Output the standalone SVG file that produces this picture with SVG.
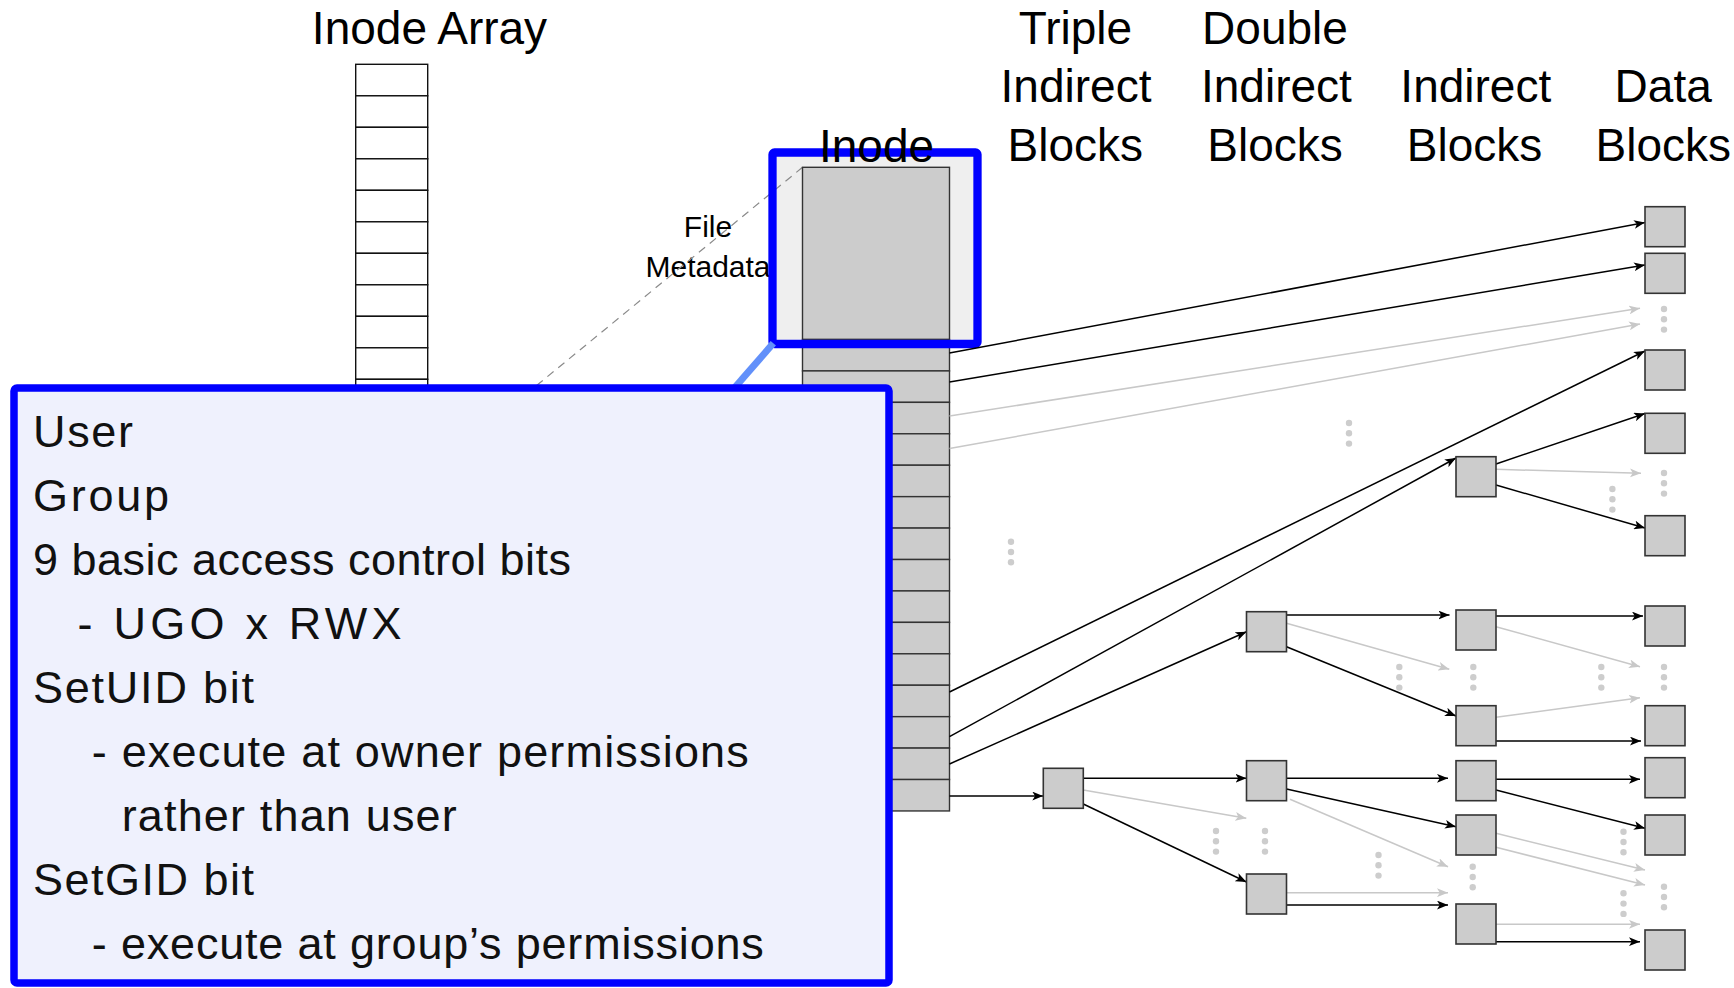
<svg xmlns="http://www.w3.org/2000/svg" width="1734" height="988" viewBox="0 0 1734 988">
<style>
.t{font-family:"Liberation Sans",Arial,sans-serif;fill:#000}
.title{font-size:46px;text-anchor:middle}
.small{font-size:30px;text-anchor:middle}
.co{font-size:45px;fill:#111}
.cell{fill:#fff;stroke:#111;stroke-width:1.4}
.gc{fill:#cccccc;stroke:#333;stroke-width:1.4}
.blk{fill:#cccccc;stroke:#333;stroke-width:1.6}
.ab{stroke:#000;stroke-width:1.5;fill:none;marker-end:url(#mb)}
.ag{stroke:#c8c8c8;stroke-width:1.5;fill:none;marker-end:url(#mg)}
.dot{fill:#cdcdcd}
</style>
<defs>
<marker id="mb" viewBox="0 0 10 8" refX="10" refY="4" markerWidth="11" markerHeight="9" markerUnits="userSpaceOnUse" orient="auto"><path d="M0,0 L10,4 L0,8 L2.5,4 Z" fill="#000"/></marker>
<marker id="mg" viewBox="0 0 10 8" refX="10" refY="4" markerWidth="11" markerHeight="9" markerUnits="userSpaceOnUse" orient="auto"><path d="M0,0 L10,4 L0,8 L2.5,4 Z" fill="#c8c8c8"/></marker>
<g id="dots3"><circle cx="0" cy="0" r="3.2"/><circle cx="0" cy="10.3" r="3.2"/><circle cx="0" cy="20.6" r="3.2"/></g>
</defs>
<rect width="1734" height="988" fill="#fff"/>

<g id="titles">
<text class="t title" x="429.5" y="43.5">Inode Array</text>
<text class="t title" x="1075.5" y="43.5">Triple</text>
<text class="t title" x="1076" y="102">Indirect</text>
<text class="t title" x="1075.3" y="161">Blocks</text>
<text class="t title" x="1275" y="43.5">Double</text>
<text class="t title" x="1276.4" y="102">Indirect</text>
<text class="t title" x="1275" y="161">Blocks</text>
<text class="t title" x="1475.8" y="102">Indirect</text>
<text class="t title" x="1474.5" y="161">Blocks</text>
<text class="t title" x="1663.2" y="102">Data</text>
<text class="t title" x="1663.3" y="161">Blocks</text>
</g>

<g id="inode-array">
<rect class="cell" x="355.7" y="64.3" width="72" height="31.5"/>
<rect class="cell" x="355.7" y="95.8" width="72" height="31.5"/>
<rect class="cell" x="355.7" y="127.3" width="72" height="31.5"/>
<rect class="cell" x="355.7" y="158.8" width="72" height="31.5"/>
<rect class="cell" x="355.7" y="190.3" width="72" height="31.5"/>
<rect class="cell" x="355.7" y="221.8" width="72" height="31.5"/>
<rect class="cell" x="355.7" y="253.3" width="72" height="31.5"/>
<rect class="cell" x="355.7" y="284.8" width="72" height="31.5"/>
<rect class="cell" x="355.7" y="316.3" width="72" height="31.5"/>
<rect class="cell" x="355.7" y="347.8" width="72" height="31.5"/>
<rect class="cell" x="355.7" y="379.3" width="72" height="31.5"/>
</g>

<text class="t small" x="708" y="237">File</text>
<text class="t small" x="708" y="277">Metadata</text>

<g id="inode">
<rect x="772.5" y="152.5" width="205" height="191.5" rx="2" fill="#efefef"/>
<line x1="802.5" y1="167.3" x2="536" y2="386" stroke="#8a8a8a" stroke-width="1.2" stroke-dasharray="8 6"/>
<rect class="gc" x="802.5" y="167.3" width="147" height="172.2"/>
<rect class="gc" x="802.5" y="339.5" width="147" height="31.43"/>
<rect class="gc" x="802.5" y="370.93" width="147" height="31.43"/>
<rect class="gc" x="802.5" y="402.36" width="147" height="31.43"/>
<rect class="gc" x="802.5" y="433.79" width="147" height="31.43"/>
<rect class="gc" x="802.5" y="465.22" width="147" height="31.43"/>
<rect class="gc" x="802.5" y="496.65" width="147" height="31.43"/>
<rect class="gc" x="802.5" y="528.08" width="147" height="31.43"/>
<rect class="gc" x="802.5" y="559.51" width="147" height="31.43"/>
<rect class="gc" x="802.5" y="590.94" width="147" height="31.43"/>
<rect class="gc" x="802.5" y="622.37" width="147" height="31.43"/>
<rect class="gc" x="802.5" y="653.8" width="147" height="31.43"/>
<rect class="gc" x="802.5" y="685.23" width="147" height="31.43"/>
<rect class="gc" x="802.5" y="716.66" width="147" height="31.43"/>
<rect class="gc" x="802.5" y="748.09" width="147" height="31.43"/>
<rect class="gc" x="802.5" y="779.52" width="147" height="31.43"/>
<rect x="772.5" y="152.5" width="205" height="191.5" rx="2" fill="none" stroke="#0000ff" stroke-width="8.3"/>
<text class="t title" x="876.5" y="162">Inode</text>
</g>

<g id="connectors">
<line class="ag" x1="949.5" y1="416" x2="1640" y2="308.3"/>
<line class="ag" x1="949.5" y1="448.5" x2="1640" y2="324"/>
<line class="ag" x1="1496" y1="469.3" x2="1641" y2="473.3"/>
<line class="ag" x1="1286.5" y1="623.3" x2="1449.3" y2="669.3"/>
<line class="ag" x1="1496" y1="626.7" x2="1640" y2="666.7"/>
<line class="ag" x1="1496" y1="717.3" x2="1640" y2="697.7"/>
<line class="ag" x1="1083.3" y1="790" x2="1246.3" y2="818.3"/>
<line class="ag" x1="1290" y1="799.3" x2="1448" y2="866.7"/>
<line class="ag" x1="1286.5" y1="892.7" x2="1448" y2="892.7"/>
<line class="ag" x1="1496" y1="833.3" x2="1645" y2="870"/>
<line class="ag" x1="1496" y1="847.3" x2="1645" y2="885"/>
<line class="ag" x1="1496" y1="924.3" x2="1640" y2="924.3"/>
<line class="ab" x1="949.5" y1="353" x2="1645" y2="222.5"/>
<line class="ab" x1="949.5" y1="382" x2="1645" y2="265"/>
<line class="ab" x1="949.5" y1="692" x2="1645" y2="351"/>
<line class="ab" x1="949.5" y1="736.7" x2="1456" y2="458"/>
<line class="ab" x1="949.5" y1="764" x2="1246.5" y2="631.7"/>
<line class="ab" x1="949.5" y1="796" x2="1043.3" y2="796"/>
<line class="ab" x1="1496" y1="464" x2="1645" y2="413.5"/>
<line class="ab" x1="1496" y1="485" x2="1645" y2="528"/>
<line class="ab" x1="1286.5" y1="615" x2="1449.5" y2="615"/>
<line class="ab" x1="1286.5" y1="646.7" x2="1456" y2="716"/>
<line class="ab" x1="1496" y1="616" x2="1643" y2="616"/>
<line class="ab" x1="1496" y1="741" x2="1641" y2="741"/>
<line class="ab" x1="1083.3" y1="778.3" x2="1246.5" y2="778.3"/>
<line class="ab" x1="1083.3" y1="804" x2="1246.5" y2="882"/>
<line class="ab" x1="1286.5" y1="778.3" x2="1448" y2="778.3"/>
<line class="ab" x1="1286.5" y1="789" x2="1456" y2="826.7"/>
<line class="ab" x1="1286.5" y1="905" x2="1448" y2="905"/>
<line class="ab" x1="1496" y1="779.3" x2="1640" y2="779.3"/>
<line class="ab" x1="1496" y1="790" x2="1645" y2="828.3"/>
<line class="ab" x1="1496" y1="941.7" x2="1640" y2="941.7"/>
</g>

<g id="triple-indirect">
<rect id="t1" class="blk" x="1043.3" y="768.3" width="40" height="40"/>
</g>
<g id="double-indirect">
<rect id="di1" class="blk" x="1246.5" y="611.7" width="40" height="40"/>
<rect id="di2" class="blk" x="1246.5" y="760.7" width="40" height="40"/>
<rect id="di3" class="blk" x="1246.5" y="874" width="40" height="40"/>
</g>
<g id="indirect">
<rect id="i1" class="blk" x="1456" y="456.7" width="40" height="40"/>
<rect id="i2" class="blk" x="1456" y="610" width="40" height="40"/>
<rect id="i3" class="blk" x="1456" y="705.7" width="40" height="40"/>
<rect id="i4" class="blk" x="1456" y="760.7" width="40" height="40"/>
<rect id="i5" class="blk" x="1456" y="815" width="40" height="40"/>
<rect id="i6" class="blk" x="1456" y="904" width="40" height="40"/>
</g>
<g id="data">
<rect id="d1" class="blk" x="1645" y="206.7" width="40" height="40"/>
<rect id="d2" class="blk" x="1645" y="253.3" width="40" height="40"/>
<rect id="d3" class="blk" x="1645" y="350" width="40" height="40"/>
<rect id="d4" class="blk" x="1645" y="413.3" width="40" height="40"/>
<rect id="d5" class="blk" x="1645" y="515.7" width="40" height="40"/>
<rect id="d6" class="blk" x="1645" y="606" width="40" height="40"/>
<rect id="d7" class="blk" x="1645" y="705.7" width="40" height="40"/>
<rect id="d8" class="blk" x="1645" y="757.7" width="40" height="40"/>
<rect id="d9" class="blk" x="1645" y="815" width="40" height="40"/>
<rect id="d10" class="blk" x="1645" y="930" width="40" height="40"/>
</g>

<g id="ellipses" class="dot">
<use href="#dots3" x="1664" y="309"/>
<use href="#dots3" x="1349" y="423"/>
<use href="#dots3" x="1011" y="541.7"/>
<use href="#dots3" x="1664" y="473"/>
<use href="#dots3" x="1612.4" y="489"/>
<use href="#dots3" x="1399.3" y="667"/>
<use href="#dots3" x="1473.3" y="667"/>
<use href="#dots3" x="1601.3" y="667"/>
<use href="#dots3" x="1664" y="667"/>
<use href="#dots3" x="1216" y="831"/>
<use href="#dots3" x="1265" y="831"/>
<use href="#dots3" x="1378.5" y="855"/>
<use href="#dots3" x="1472.7" y="866.7"/>
<use href="#dots3" x="1623.5" y="831.7"/>
<use href="#dots3" x="1623.5" y="893.3"/>
<use href="#dots3" x="1664" y="886.7"/>
</g>

<g id="callout">
<line x1="773.3" y1="343.3" x2="735" y2="387.3" stroke="#6290fa" stroke-width="7"/>
<rect x="14" y="388" width="875" height="595" rx="3" fill="#eff1fd" stroke="#0000ff" stroke-width="7.5"/>
<text class="t co" x="33" y="447" textLength="100" lengthAdjust="spacing">User</text>
<text class="t co" x="33" y="511" textLength="136" lengthAdjust="spacing">Group</text>
<text class="t co" x="33" y="575" textLength="538" lengthAdjust="spacing">9 basic access control bits</text>
<text class="t co" x="77.5" y="639" textLength="324" lengthAdjust="spacing">- UGO x RWX</text>
<text class="t co" x="33" y="703" textLength="221" lengthAdjust="spacing">SetUID bit</text>
<text class="t co" x="91.8" y="767" textLength="657" lengthAdjust="spacing">- execute at owner permissions</text>
<text class="t co" x="121.7" y="831" textLength="335" lengthAdjust="spacing">rather than user</text>
<text class="t co" x="33" y="895" textLength="221" lengthAdjust="spacing">SetGID bit</text>
<text class="t co" x="91.8" y="959" textLength="672" lengthAdjust="spacing">- execute at group’s permissions</text>
</g>
</svg>
